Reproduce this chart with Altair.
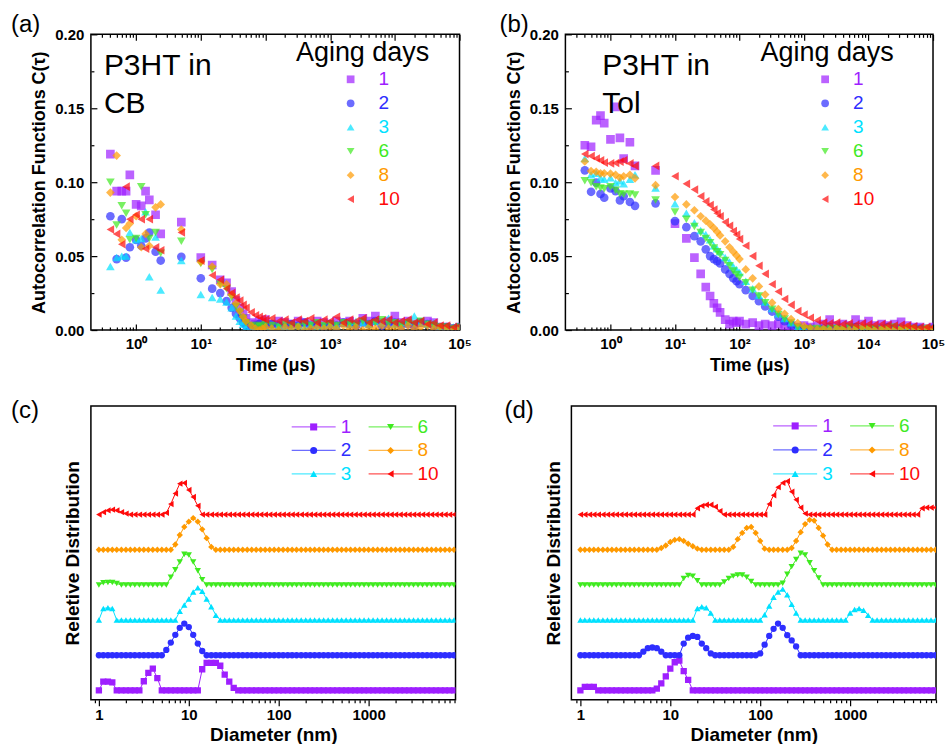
import altair as alt
import pandas as pd

FONT = "Liberation Sans"
DAYS = ["1", "2", "3", "6", "8", "10"]
COLORS = ["#9E1FFF", "#2E2EFF", "#00E1FF", "#3FEA1F", "#FF9A00", "#FF0A0A"]
SHAPES = ["square", "circle", "triangle-up", "triangle-down", "diamond", "triangle-left"]

# ---------------- correlation functions (top panels) ----------------
TIME = [0.4, 0.5, 0.6, 0.7, 0.8, 1.0, 1.2, 1.4, 1.6, 2.0, 2.4,
        5, 10, 15, 20, 25, 30, 35, 40, 45, 50, 60, 70, 80, 90, 100,
        125, 160, 200, 250, 320, 400, 500, 630, 800, 1000,
        1250, 1600, 2000, 2500, 3200, 4000, 5000, 6300, 8000, 10000,
        12500, 16000, 20000, 25000, 32000, 40000, 50000, 63000, 80000, 100000]

CB_1 = [0.119, 0.094, 0.094, 0.094, 0.105, 0.085, 0.084, 0.094, 0.088, 0.078, 0.065,
        0.073, 0.049, 0.044, 0.034, 0.032, 0.026, 0.020, 0.015, 0.011, 0.008, 0.005, 0.004, 0.006, 0.005, 0.007,
        0.004, 0.006, 0.005, 0.004, 0.006, 0.005, 0.004, 0.006, 0.005, 0.004,
        0.006, 0.005, 0.006, 0.004, 0.008, 0.006, 0.0095, 0.005, 0.006, 0.0095,
        0.005, 0.006, 0.004, 0.005, 0.006, 0.005, 0.002, 0.002, 0.001, 0.002]
CB_2 = [0.077, 0.048, 0.075, 0.049, 0.056, 0.061, 0.057, 0.062, 0.066, 0.053, 0.047,
        0.0495, 0.035, 0.028, 0.025, 0.0196, 0.015, 0.011, 0.008, 0.005, 0.003, 0.002, 0.003, 0.004, 0.002, 0.003,
        0.004, 0.003, 0.002, 0.004, 0.003, 0.005, 0.003, 0.004, 0.002, 0.004,
        0.003, 0.005, 0.004, 0.003, 0.005, 0.004, 0.006, 0.003, 0.004, 0.005,
        0.003, 0.004, 0.003, 0.005, 0.004, 0.003, 0.002, 0.002, 0.001, 0.002]
CB_3 = [0.043, 0.049, 0.050, 0.050, 0.066, 0.061, 0.062, 0.080, 0.036, 0.063, 0.027,
        0.047, 0.024, 0.022, 0.021, 0.019, 0.015, 0.0095, 0.006, 0.004, 0.0016, 0.0, 0.001, 0.0, 0.001, 0.002,
        0.001, 0.003, 0.002, 0.001, 0.003, 0.002, 0.004, 0.002, 0.003, 0.004,
        0.003, 0.005, 0.004, 0.006, 0.005, 0.004, 0.006, 0.005, 0.008, 0.004,
        0.005, 0.006, 0.0095, 0.005, 0.004, 0.005, 0.002, 0.001, 0.002, 0.001]
CB_6 = [0.100, 0.071, 0.084, 0.079, 0.061, 0.062, 0.097, 0.078, 0.062, 0.066, 0.052,
        0.060, 0.045, 0.041, 0.031, 0.028, 0.022, 0.016, 0.012, 0.008, 0.005, 0.003, 0.002, 0.003, 0.002, 0.004,
        0.003, 0.002, 0.004, 0.003, 0.002, 0.004, 0.003, 0.005, 0.003, 0.004,
        0.003, 0.005, 0.004, 0.003, 0.006, 0.004, 0.005, 0.007, 0.004, 0.005,
        0.003, 0.005, 0.004, 0.006, 0.004, 0.003, 0.002, 0.002, 0.001, 0.002]
CB_8 = [0.093, 0.118, 0.061, 0.069, 0.072, 0.077, 0.056, 0.065, 0.057, 0.083, 0.085,
        0.068, 0.046, 0.043, 0.031, 0.031, 0.024, 0.018, 0.013, 0.009, 0.006, 0.003, 0.001, 0.0, 0.001, 0.002,
        0.001, 0.0, 0.002, 0.001, 0.002, 0.0, 0.001, 0.002, 0.001, 0.002,
        0.001, 0.003, 0.001, 0.002, 0.0, 0.002, 0.001, 0.003, 0.001, 0.002,
        0.001, 0.003, 0.001, 0.002, 0.003, 0.001, 0.002, 0.001, 0.0, 0.001]
CB_10 = [0.068, 0.065, 0.058, 0.097, 0.075, 0.078, 0.075, 0.055, 0.075, 0.056, 0.054,
         0.066, 0.047, 0.037, 0.034, 0.028, 0.025, 0.022, 0.020, 0.017, 0.015, 0.012, 0.010, 0.009, 0.008, 0.007,
         0.008, 0.006, 0.007, 0.005, 0.007, 0.006, 0.008, 0.005, 0.007, 0.006,
         0.009, 0.005, 0.007, 0.006, 0.008, 0.005, 0.007, 0.006, 0.007, 0.005,
         0.006, 0.007, 0.005, 0.006, 0.004, 0.005, 0.003, 0.003, 0.002, 0.003]

TOL_1 = [0.125, 0.124, 0.142, 0.145, 0.140, 0.129, 0.151, 0.130, 0.116, 0.127, 0.111,
         0.108, 0.072, 0.062, 0.049, 0.038, 0.029, 0.023, 0.018, 0.015, 0.012, 0.007, 0.004, 0.006, 0.005, 0.006,
         0.004, 0.005, 0.003, 0.004, 0.003, 0.004, 0.003, 0.003, 0.002, 0.003,
         0.002, 0.003, 0.004, 0.007, 0.003, 0.004, 0.003, 0.007, 0.004, 0.006,
         0.003, 0.004, 0.003, 0.004, 0.0055, 0.003, 0.002, 0.002, 0.001, 0.002]
TOL_2 = [0.108, 0.0935, 0.0997, 0.092, 0.0895, 0.0958, 0.094, 0.0877, 0.0905, 0.0866, 0.084,
         0.0857, 0.0737, 0.0696, 0.0635, 0.060, 0.0546, 0.050, 0.048, 0.0466, 0.045, 0.041, 0.038, 0.035, 0.033, 0.031,
         0.027, 0.023, 0.0195, 0.016, 0.0125, 0.009, 0.006, 0.0035, 0.0015, 0.0005,
         0.001, 0.0, 0.001, 0.002, 0.001, 0.0, 0.001, 0.002, 0.001, 0.001,
         0.0, 0.001, 0.002, 0.001, 0.001, 0.0, 0.001, 0.001, 0.0, 0.001]
TOL_3 = [0.116, 0.105, 0.106, 0.103, 0.102, 0.103, 0.0997, 0.101, 0.099, 0.102, 0.105,
         0.096, 0.0855, 0.079, 0.0726, 0.0674, 0.0647, 0.061, 0.057, 0.055, 0.053, 0.049, 0.046, 0.043, 0.041, 0.039,
         0.033, 0.028, 0.0235, 0.019, 0.0145, 0.011, 0.0078, 0.005, 0.002, 0.001,
         0.0005, 0.001, 0.0, 0.001, 0.002, 0.001, 0.0, 0.001, 0.001, 0.002,
         0.001, 0.0, 0.001, 0.001, 0.002, 0.001, 0.0, 0.001, 0.001, 0.0]
TOL_6 = [0.101, 0.0997, 0.097, 0.096, 0.0956, 0.097, 0.0945, 0.092, 0.0918, 0.092, 0.0913,
         0.088, 0.0798, 0.075, 0.070, 0.066, 0.062, 0.059, 0.0555, 0.053, 0.051, 0.047, 0.0435, 0.040, 0.0375, 0.0355,
         0.032, 0.027, 0.023, 0.0185, 0.014, 0.0105, 0.0075, 0.0048, 0.0018, 0.0008,
         0.0005, 0.001, 0.0, 0.001, 0.001, 0.0, 0.002, 0.001, 0.0, 0.001,
         0.001, 0.0, 0.001, 0.002, 0.0, 0.001, 0.001, 0.0, 0.001, 0.0]
TOL_8 = [0.114, 0.1075, 0.107, 0.106, 0.106, 0.1058, 0.105, 0.103, 0.104, 0.105, 0.1026,
         0.098, 0.090, 0.085, 0.081, 0.077, 0.074, 0.0715, 0.069, 0.0665, 0.064, 0.060, 0.056, 0.053, 0.0505, 0.048,
         0.041, 0.035, 0.0295, 0.024, 0.0185, 0.0142, 0.011, 0.0075, 0.0047, 0.0027,
         0.0015, 0.0005, 0.001, 0.0, 0.001, 0.001, 0.0, 0.001, 0.002, 0.001,
         0.0, 0.001, 0.001, 0.0, 0.001, 0.002, 0.001, 0.0, 0.001, 0.001]
TOL_10 = [0.119, 0.1177, 0.116, 0.1148, 0.1132, 0.1127, 0.113, 0.1139, 0.1148, 0.1127, 0.111,
          0.111, 0.104, 0.0989, 0.095, 0.0905, 0.087, 0.0845, 0.0815, 0.079, 0.077, 0.073, 0.0705, 0.067, 0.0645, 0.0615,
          0.057, 0.050, 0.0435, 0.038, 0.031, 0.026, 0.021, 0.017, 0.0128, 0.0105,
          0.0083, 0.0065, 0.005, 0.0045, 0.005, 0.004, 0.0045, 0.0035, 0.0045, 0.004,
          0.0035, 0.004, 0.0035, 0.003, 0.0035, 0.003, 0.0025, 0.002, 0.002, 0.002]

MAJOR_T = [1, 10, 100, 1000, 10000, 100000]
MINOR_T = [0.3, 0.4, 0.5, 0.6, 0.7, 0.8, 0.9,
           2, 3, 4, 5, 6, 7, 8, 9,
           20, 30, 40, 50, 60, 70, 80, 90,
           200, 300, 400, 500, 600, 700, 800, 900,
           2000, 3000, 4000, 5000, 6000, 7000, 8000, 9000,
           20000, 30000, 40000, 50000, 60000, 70000, 80000, 90000]
Y_MAJOR = [0.0, 0.05, 0.10, 0.15, 0.20]
Y_MINOR = [0.025, 0.075, 0.125, 0.175]

# ---------------- size distributions (bottom panels) ----------------
DIAM = [1.0, 1.12, 1.26, 1.41, 1.58, 1.78, 2.0, 2.24, 2.51, 2.82,
        3.16, 3.55, 3.98, 4.47, 5.01, 5.62, 6.31, 7.08, 7.94, 8.91,
        10.0, 11.2, 12.6, 14.1, 15.8, 17.8, 20.0, 22.4, 25.1, 28.2,
        31.6, 35.5, 39.8, 44.7, 50.1, 56.2, 63.1, 70.8, 79.4, 89.1,
        100, 112, 126, 141, 158, 178, 200, 224, 251, 282,
        316, 355, 398, 447, 501, 562, 631, 708, 794, 891,
        1000, 1122, 1259, 1413, 1585, 1778, 1995, 2239, 2512, 2818,
        3162, 3548, 3981, 4467, 5012, 5623, 6310, 7079, 7943, 8913]

# non-zero values keyed by position in DIAM (all other bins read as 0)
CB_DIST_1 = {1: 0.25, 2: 0.25, 3: 0.23, 10: 0.26, 11: 0.5, 12: 0.62, 13: 0.35,
             23: 0.6, 24: 0.78, 25: 0.78, 26: 0.78, 27: 0.7, 28: 0.45, 29: 0.25, 30: 0.07}
CB_DIST_2 = {15: 0.15, 16: 0.36, 17: 0.58, 18: 0.78, 19: 0.9, 20: 0.8, 21: 0.58, 22: 0.33, 23: 0.12}
CB_DIST_3 = {1: 0.33, 2: 0.35, 3: 0.33, 18: 0.25, 19: 0.43, 20: 0.6, 21: 0.8, 22: 0.92, 23: 0.82,
             24: 0.6, 25: 0.38, 26: 0.14}
CB_DIST_6 = {1: 0.06, 2: 0.07, 3: 0.07, 4: 0.04, 16: 0.22, 17: 0.43, 18: 0.65, 19: 0.87, 20: 0.85,
             21: 0.65, 22: 0.4, 23: 0.15}
CB_DIST_8 = {17: 0.15, 18: 0.42, 19: 0.65, 20: 0.8, 21: 0.9, 22: 0.8, 23: 0.58, 24: 0.33, 25: 0.08}
CB_DIST_10 = {1: 0.07, 2: 0.12, 3: 0.14, 4: 0.12, 5: 0.07, 6: 0.03, 15: 0.05, 16: 0.3, 17: 0.6,
              18: 0.88, 19: 0.9, 20: 0.7, 21: 0.5, 22: 0.25}

TOL_DIST_1 = {1: 0.1, 2: 0.1, 3: 0.1, 17: 0.05, 18: 0.2, 19: 0.4, 20: 0.62, 21: 0.8, 22: 0.85,
              23: 0.55, 24: 0.3}
TOL_DIST_2 = {14: 0.1, 15: 0.2, 16: 0.22, 17: 0.2, 18: 0.1, 23: 0.33, 24: 0.5, 25: 0.55, 26: 0.52,
              27: 0.33, 28: 0.2, 29: 0.05, 40: 0.05, 41: 0.3, 42: 0.55, 43: 0.75, 44: 0.9, 45: 0.78,
              46: 0.57, 47: 0.42, 48: 0.25}
TOL_DIST_3 = {26: 0.33, 27: 0.38, 28: 0.35, 29: 0.2, 41: 0.15, 42: 0.4, 43: 0.65, 44: 0.8, 45: 0.88,
              46: 0.72, 47: 0.45, 48: 0.2, 60: 0.2, 61: 0.3, 62: 0.33, 63: 0.28, 64: 0.14}
TOL_DIST_6 = {23: 0.18, 24: 0.27, 25: 0.25, 26: 0.12, 32: 0.08, 33: 0.18, 34: 0.25, 35: 0.28,
              36: 0.28, 37: 0.22, 38: 0.1, 45: 0.05, 46: 0.3, 47: 0.52, 48: 0.72, 49: 0.9, 50: 0.85,
              51: 0.63, 52: 0.4, 53: 0.2}
TOL_DIST_8 = {18: 0.05, 19: 0.12, 20: 0.22, 21: 0.28, 22: 0.3, 23: 0.25, 24: 0.17, 25: 0.1, 26: 0.03,
              34: 0.08, 35: 0.3, 36: 0.48, 37: 0.62, 38: 0.65, 39: 0.48, 40: 0.25, 41: 0.03,
              47: 0.05, 48: 0.25, 49: 0.5, 50: 0.73, 51: 0.85, 52: 0.83, 53: 0.62, 54: 0.4, 55: 0.15}
TOL_DIST_10 = {26: 0.18, 27: 0.25, 28: 0.28, 29: 0.28, 30: 0.22, 31: 0.1, 42: 0.3, 43: 0.55, 44: 0.78,
               45: 0.9, 46: 0.95, 47: 0.65, 48: 0.42, 49: 0.2, 50: 0.03, 76: 0.18, 77: 0.2, 78: 0.2,
               79: 0.2}

MAJOR_D = [1, 10, 100, 1000]
MINOR_D = [0.9, 2, 3, 4, 5, 6, 7, 8, 9,
           20, 30, 40, 50, 60, 70, 80, 90,
           200, 300, 400, 500, 600, 700, 800, 900,
           2000, 3000, 4000, 5000, 6000, 7000, 8000, 9000]

SUP = "'10' + ['⁰','¹','²','³','⁴','⁵'][round(log(datum.value) / LN10)]"

color_scale = alt.Scale(domain=DAYS, range=COLORS)
shape_scale = alt.Scale(domain=DAYS, range=SHAPES)


def tick_axis(orient, values, size, inward):
    kw = dict(orient=orient, values=values, labels=False, ticks=True, tickSize=size,
              tickColor="black", tickWidth=1.2, domain=False, grid=False, title=None)
    if inward:
        kw["offset"] = -size
    return alt.Axis(**kw)


def text_layer(txt, x, y, size, align="left", weight="normal"):
    return alt.Chart(pd.DataFrame({"s": [txt]})).mark_text(
        align=align, baseline="middle", font=FONT, fontSize=size, fontWeight=weight, color="black"
    ).encode(text="s:N", x=alt.value(x), y=alt.value(y))


def top_panel(series, letter, letter_x, line1, line2, text_x, leg_title_x, width, height):
    rows = []
    for day, vals in zip(DAYS, series):
        for t, v in zip(TIME, vals):
            rows.append({"t": t, "v": v, "day": day})
    df = pd.DataFrame(rows)
    xs = alt.Scale(type="log", domain=[0.2, 100000], nice=False)
    ys = alt.Scale(domain=[0, 0.2], nice=False)
    base = alt.Chart(df)
    x_lab = alt.Axis(orient="bottom", values=MAJOR_T, labelExpr=SUP, ticks=False, domain=False,
                     grid=False, labelFont=FONT, labelFontSize=15, labelFontWeight="bold",
                     labelColor="black", labelPadding=6, labelFlush=False, labelOverlap=False,
                     title="Time (μs)", titleFont=FONT, titleFontSize=18, titleFontWeight="bold",
                     titleColor="black", titlePadding=5)
    y_lab = alt.Axis(orient="left", values=Y_MAJOR, format=".2f", ticks=False, domain=False,
                     grid=False, labelFont=FONT, labelFontSize=15, labelFontWeight="bold",
                     labelColor="black", labelPadding=7, labelFlush=False, labelOverlap=False,
                     title="Autocorrelation Functions C(τ)", titleFont=FONT, titleFontSize=18,
                     titleFontWeight="bold", titleColor="black", titlePadding=6)
    pts = base.mark_point(filled=True, size=75, opacity=0.7, clip=True).encode(
        x=alt.X("t:Q", scale=xs, axis=x_lab),
        y=alt.Y("v:Q", scale=ys, axis=y_lab),
        color=alt.Color("day:N", scale=color_scale, legend=None),
        shape=alt.Shape("day:N", scale=shape_scale, legend=None),
    )
    ghost = base.mark_point(opacity=0, size=1)
    t1 = ghost.encode(x=alt.X("t:Q", scale=xs, axis=tick_axis("bottom", MAJOR_T, 6, True)),
                      y=alt.Y("v:Q", scale=ys, axis=tick_axis("left", Y_MAJOR, 6, True)))
    t2 = ghost.encode(x=alt.X("t:Q", scale=xs, axis=tick_axis("bottom", MINOR_T, 3, True)),
                      y=alt.Y("v:Q", scale=ys, axis=tick_axis("left", Y_MINOR, 3, True)))
    t3 = ghost.encode(x=alt.X("t:Q", scale=xs, axis=tick_axis("top", MAJOR_T, 6, True)),
                      y=alt.Y("v:Q", scale=ys, axis=None))
    t4 = ghost.encode(x=alt.X("t:Q", scale=xs, axis=tick_axis("top", MINOR_T, 3, True)),
                      y=alt.Y("v:Q", scale=ys, axis=None))
    inner = alt.layer(pts, t1, t2, t3, t4).resolve_axis(x="independent", y="independent")

    leg_df = pd.DataFrame({"day": DAYS, "col": [0] * len(DAYS), "row": list(range(len(DAYS)))})
    lx = alt.X("col:Q", scale=alt.Scale(domain=[0, 1], range=[260, 360]), axis=None)
    ly = alt.Y("row:Q", scale=alt.Scale(domain=[0, 5], range=[45, 165]), axis=None)
    leg_sym = alt.Chart(leg_df).mark_point(filled=True, size=60, opacity=0.7).encode(
        x=lx, y=ly,
        color=alt.Color("day:N", scale=color_scale, legend=None),
        shape=alt.Shape("day:N", scale=shape_scale, legend=None))
    leg_lab = alt.Chart(leg_df).mark_text(align="left", baseline="middle", dx=28, font=FONT,
                                          fontSize=19).encode(
        x=lx, y=ly, text="day:N",
        color=alt.Color("day:N", scale=color_scale, legend=None))
    legend = alt.layer(leg_sym, leg_lab)

    texts = [
        text_layer(letter, letter_x, -9, 24),
        text_layer(line1, text_x, 32, 30),
        text_layer(line2, text_x, 70, 30),
        text_layer("Aging days", leg_title_x, 19, 27, align="center"),
    ]
    return alt.layer(inner, legend, *texts).resolve_scale(
        x="independent", y="independent").properties(width=width, height=height)


def bottom_panel(series, letter, letter_x, xdom, leg_x, leg_y, width, height):
    rows = []
    for i, (day, vals) in enumerate(zip(DAYS, series)):
        for k, d in enumerate(DIAM):
            rows.append({"d": d, "v": vals.get(k, 0.0), "day": day, "level": i})
    df = pd.DataFrame(rows)
    xs = alt.Scale(type="log", domain=xdom, nice=False)
    ys = alt.Scale(domain=[-0.264, 8.09], nice=False)
    base = alt.Chart(df).transform_calculate(y="datum.v + datum.level")
    x_lab = alt.Axis(orient="bottom", values=MAJOR_D, format="d", ticks=True, tickSize=6,
                     tickWidth=1.2, tickColor="black", domain=False, grid=False, labelFont=FONT,
                     labelFontSize=15, labelFontWeight="bold", labelColor="black", labelPadding=2,
                     labelFlush=False, labelOverlap=False, title="Diameter (nm)", titleFont=FONT,
                     titleFontSize=19, titleFontWeight="bold", titleColor="black", titlePadding=3)
    y_lab = alt.Axis(orient="left", labels=False, ticks=False, domain=False, grid=False,
                     title="Reletive Distribution", titleFont=FONT, titleFontSize=19,
                     titleFontWeight="bold", titleColor="black", titlePadding=8)
    line = base.mark_line(strokeWidth=1, clip=True).encode(
        x=alt.X("d:Q", scale=xs, axis=x_lab),
        y=alt.Y("y:Q", scale=ys, axis=y_lab),
        color=alt.Color("day:N", scale=color_scale, legend=None),
        detail="day:N")
    pts = base.mark_point(filled=True, size=40, opacity=1, clip=True).encode(
        x=alt.X("d:Q", scale=xs, axis=None),
        y=alt.Y("y:Q", scale=ys, axis=None),
        color=alt.Color("day:N", scale=color_scale, legend=None),
        shape=alt.Shape("day:N", scale=shape_scale, legend=None))
    minor = base.mark_point(opacity=0, size=1).encode(
        x=alt.X("d:Q", scale=xs, axis=tick_axis("bottom", MINOR_D, 3, False)),
        y=alt.Y("y:Q", scale=ys, axis=None))
    inner = alt.layer(line, pts, minor).resolve_axis(x="independent", y="independent")

    leg_df = pd.DataFrame({"day": DAYS, "col": [0, 0, 0, 1, 1, 1], "row": [0, 1, 2, 0, 1, 2]})
    lx = alt.X("col:Q", scale=alt.Scale(domain=[0, 1], range=leg_x), axis=None)
    ly = alt.Y("row:Q", scale=alt.Scale(domain=[0, 2], range=leg_y), axis=None)
    lc = alt.Color("day:N", scale=color_scale, legend=None)
    leg_line = alt.Chart(leg_df).mark_tick(orient="horizontal", size=44, thickness=1.2).encode(
        x=lx, y=ly, color=lc)
    leg_sym = alt.Chart(leg_df).mark_point(filled=True, size=50, opacity=1).encode(
        x=lx, y=ly, color=lc, shape=alt.Shape("day:N", scale=shape_scale, legend=None))
    leg_lab = alt.Chart(leg_df).mark_text(align="left", baseline="middle", dx=27, font=FONT,
                                          fontSize=19).encode(x=lx, y=ly, text="day:N", color=lc)
    legend = alt.layer(leg_line, leg_sym, leg_lab)

    return alt.layer(inner, legend, text_layer(letter, letter_x, 5, 24)).resolve_scale(
        x="independent", y="independent").properties(width=width, height=height)


pa = top_panel([CB_1, CB_2, CB_3, CB_6, CB_8, CB_10], "(a)", -80, "P3HT in", "CB", 13, 272, 369, 296)
pb = top_panel([TOL_1, TOL_2, TOL_3, TOL_6, TOL_8, TOL_10], "(b)", -66, "P3HT in", "Tol", 37, 262, 368, 296)
pc = bottom_panel([CB_DIST_1, CB_DIST_2, CB_DIST_3, CB_DIST_6, CB_DIST_8, CB_DIST_10],
                  "(c)", -80, [0.815, 9270], [223, 300], [21, 68], 365, 294)
pd_ = bottom_panel([TOL_DIST_1, TOL_DIST_2, TOL_DIST_3, TOL_DIST_6, TOL_DIST_8, TOL_DIST_10],
                   "(d)", -67, [0.794, 9033], [224, 301], [20, 68], 365, 294)

top = alt.hconcat(pa, pb, spacing=106, bounds="flush")
bottom = alt.hconcat(pc, pd_, spacing=116, bounds="flush")
chart = alt.vconcat(top, bottom, spacing=23).properties(
    padding={"left": 10, "top": 12, "right": 0, "bottom": 0}
).configure(font=FONT).configure_view(stroke="black", strokeWidth=1.5)

chart.save("out.html", embed_options={"renderer": "svg", "actions": False})
